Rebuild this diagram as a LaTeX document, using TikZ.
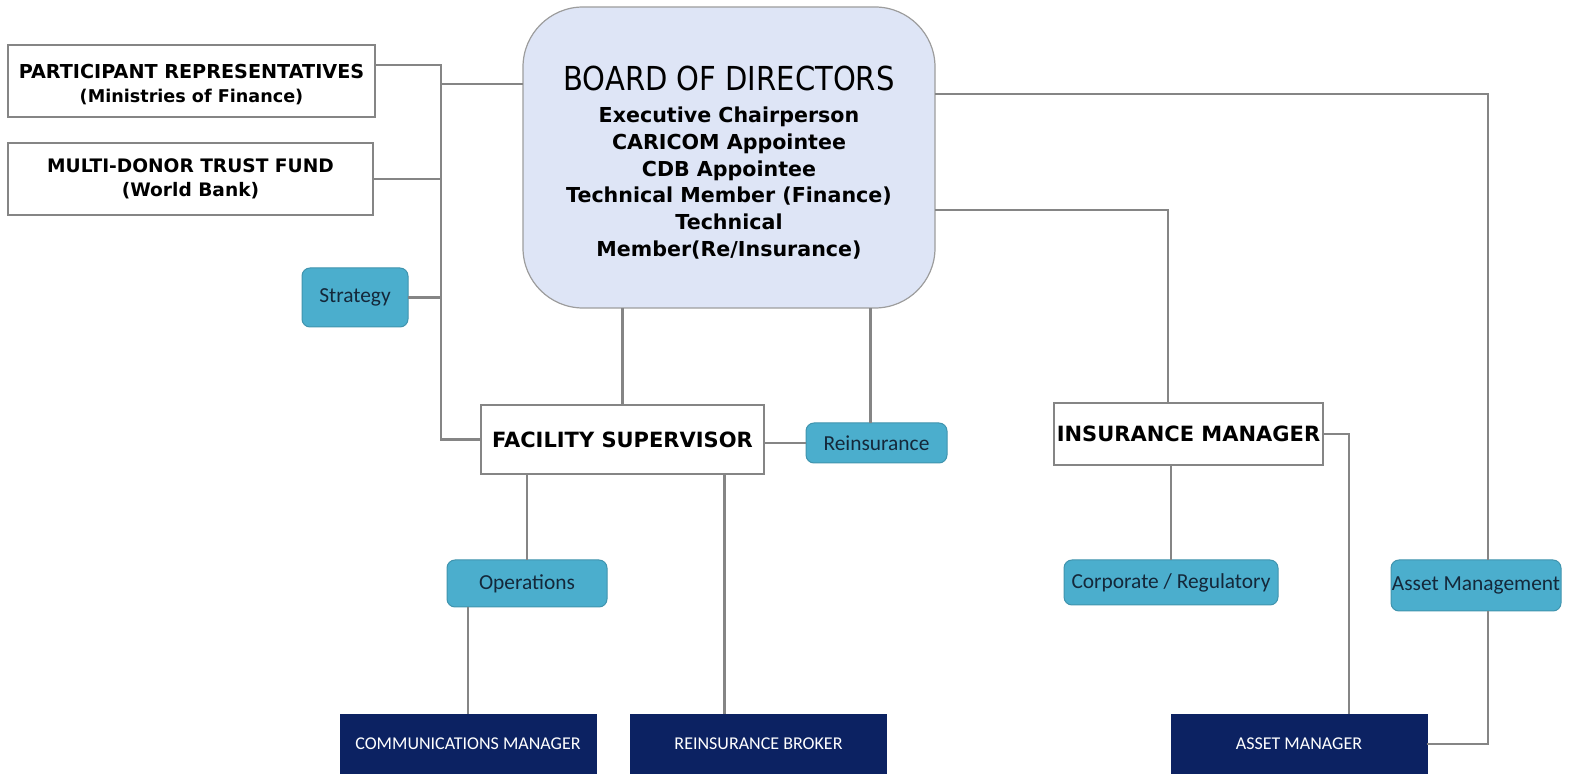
\documentclass[tikz,border=0pt]{standalone}
\usepackage{fontspec}
\setmainfont{DejaVu Sans}
\newfontfamily\boxfont{Carlito}
\newfontfamily\headfont[FakeStretch=0.88]{DejaVu Sans}
\usetikzlibrary{
positioning,
}
\definecolor{linegray}{HTML}{858585}
\definecolor{boardfill}{HTML}{DEE5F6}
\definecolor{unitfill}{HTML}{4BAECD}
\definecolor{unittext}{HTML}{14283A}
\definecolor{navy}{HTML}{0C2262}
\tikzset{
x=0.5pt, y=-0.5pt,
outer sep=0pt,
every node/.style={align=center, inner sep=0pt},
link/.style={draw=linegray, line width=1.1pt},
office/.style={rectangle, draw=linegray, line width=1.2pt, fill=white,
  font=\bfseries\fontsize{10.5}{12}\selectfont},
unit/.style={rectangle, rounded corners=4pt, draw=unitfill!85!black, line width=0.5pt,
  fill=unitfill, text=unittext, font=\boxfont\fontsize{10.7}{12}\selectfont},
staff/.style={rectangle, fill=navy, draw=navy, text=white,
  font=\boxfont\fontsize{9}{11}\selectfont, minimum width=128pt, minimum height=30pt},
board/.style={rectangle, rounded corners=30pt, draw=linegray!80, line width=0.6pt,
  fill=boardfill, font=\bfseries\fontsize{10.3}{13.4}\selectfont},
}
\newcommand\subline[1]{{\fontsize{8.8}{12}\selectfont #1}}

\begin{document}
\begin{tikzpicture}
\useasboundingbox (0,0) rectangle (1575,774);
\clip (0,0) rectangle (1575,774);
\node (board) [board, minimum width=206pt, minimum height=150.5pt] at (729,157.5)
  {\rule{0pt}{17.5pt}{\headfont\mdseries\fontsize{16.5}{18}\selectfont BOARD OF DIRECTORS}\\[2.5pt]
   Executive Chairperson\\ CARICOM Appointee\\ CDB Appointee\\
   Technical Member (Finance)\\ Technical\\ Member(Re/Insurance)};
\node (part) [office, minimum width=183.5pt, minimum height=36pt,
  font=\bfseries\fontsize{9.6}{12}\selectfont] at (191.5,81)
  {\rule{0pt}{11pt}PARTICIPANT REPRESENTATIVES\\\subline{(Ministries of Finance)}};
\node (mdtf) [office, minimum width=182.5pt, minimum height=36pt,
  font=\bfseries\fontsize{9.3}{12}\selectfont] at (190.5,179)
  {MULTI-DONOR TRUST FUND\\(World Bank)};
\node (strat) [unit, minimum width=53pt, minimum height=29.5pt] at (355,297.5) {Strategy};
\node (fac) [office, minimum width=141.5pt, minimum height=34.5pt] at (622.5,439.5) {FACILITY SUPERVISOR};
\node (reins) [unit, minimum width=70.5pt, minimum height=20pt] at (876.5,443) {Reinsurance};
\node (ops) [unit, minimum width=80pt, minimum height=23.5pt] at (527,583.5) {Operations};
\node (ins) [office, minimum width=134.5pt, minimum height=31pt] at (1188.5,434) {INSURANCE MANAGER};
\node (corp) [unit, minimum width=107pt, minimum height=22.5pt] at (1171,582.5) {Corporate / Regulatory};
\node (assets) [unit, minimum width=85pt, minimum height=25.5pt] at (1476,585.5) {Asset Management};
\node (comms) [staff] at (468,744) {COMMUNICATIONS MANAGER};
\node (broker) [staff] at (758.5,744) {REINSURANCE BROKER};
\node (amgr) [staff] at (1299,744) {ASSET MANAGER};

% left trunk
\coordinate (trunk) at (441,65);
\coordinate (tb) at (441,84);
\draw [link] (part.east |- trunk) -- (trunk) |- (fac.west);
\draw [link] (tb) -- (tb -| board.west);
\draw [link] (mdtf.east) -- (mdtf.east -| trunk);
\draw [link] (strat.east) -- (strat.east -| trunk);
% right side
\coordinate (ra) at (1488,94);
\coordinate (ri) at (1168,210);
\draw [link] (ra -| board.east) -- (ra) -- (ra |- assets.north);
\draw [link] (ra |- assets.south) |- (amgr.east);
\draw [link] (ri -| board.east) -- (ri) -- (ri |- ins.north);
% below the board
\draw [link] (board.south -| fac.north) -- (fac.north);
\draw [link] ([xshift=-3pt]reins.north) -- ([xshift=-3pt]reins.north |- board.south);
\draw [link] (reins.west) -- (reins.west -| fac.east);
\draw [link] (fac.south -| ops.north) -- (ops.north);
\draw [link] (ops.south -| comms.north) -- (comms.north);
\draw [link] ([xshift=-17pt]broker.north) -- ([xshift=-17pt]broker.north |- fac.south);
\draw [link] (ins.south -| corp.north) -- (corp.north);
\draw [link] (ins.east) -| ([xshift=25pt]amgr.north);
\end{tikzpicture}
\end{document}
